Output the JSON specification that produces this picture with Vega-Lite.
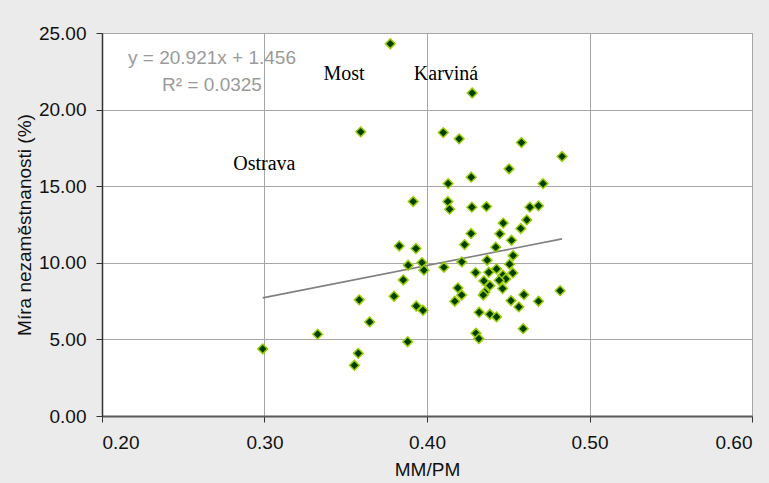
{
  "$schema": "https://vega.github.io/schema/vega-lite/v6.json",
  "width": 650,
  "height": 383,
  "autosize": {"type": "none"},
  "padding": {"left": 102, "top": 33, "right": 17, "bottom": 67},
  "background": "#ebebeb",
  "config": {
    "view": {"fill": "white", "stroke": "#8c8c8c", "strokeWidth": 1},
    "axis": {
      "labelFont": "Liberation Sans",
      "titleFont": "Liberation Sans",
      "labelFontSize": 19,
      "titleFontSize": 19,
      "labelColor": "#111111",
      "titleColor": "#111111",
      "titleFontWeight": "normal",
      "gridColor": "#a6a6a6",
      "gridWidth": 1,
      "tickColor": "#333333",
      "tickSize": 6,
      "labelPadding": 10
    }
  },
  "datasets": {
    "points": [
      {"x": 0.2989, "y": 4.38}, {"x": 0.3327, "y": 5.34}, {"x": 0.3583, "y": 7.58},
      {"x": 0.3647, "y": 6.14}, {"x": 0.3577, "y": 4.09}, {"x": 0.3553, "y": 3.31},
      {"x": 0.3774, "y": 24.30}, {"x": 0.4278, "y": 21.08}, {"x": 0.3592, "y": 18.55},
      {"x": 0.4100, "y": 18.50}, {"x": 0.4198, "y": 18.09}, {"x": 0.4272, "y": 15.59},
      {"x": 0.4130, "y": 15.17}, {"x": 0.4581, "y": 17.85}, {"x": 0.4831, "y": 16.94},
      {"x": 0.4505, "y": 16.13}, {"x": 0.4714, "y": 15.17}, {"x": 0.3915, "y": 14.00},
      {"x": 0.4128, "y": 14.00}, {"x": 0.4139, "y": 13.50}, {"x": 0.4276, "y": 13.63},
      {"x": 0.4366, "y": 13.67}, {"x": 0.4633, "y": 13.63}, {"x": 0.4686, "y": 13.72},
      {"x": 0.4614, "y": 12.80}, {"x": 0.4469, "y": 12.59}, {"x": 0.4577, "y": 12.24},
      {"x": 0.4448, "y": 11.89}, {"x": 0.4271, "y": 11.91}, {"x": 0.4520, "y": 11.47},
      {"x": 0.4231, "y": 11.19}, {"x": 0.3829, "y": 11.10}, {"x": 0.3932, "y": 10.93},
      {"x": 0.4423, "y": 11.02}, {"x": 0.4530, "y": 10.47}, {"x": 0.4370, "y": 10.17},
      {"x": 0.4214, "y": 10.06}, {"x": 0.4508, "y": 9.91}, {"x": 0.3969, "y": 10.01},
      {"x": 0.3884, "y": 9.84}, {"x": 0.3981, "y": 9.52}, {"x": 0.4104, "y": 9.71},
      {"x": 0.4428, "y": 9.60}, {"x": 0.4299, "y": 9.36}, {"x": 0.4380, "y": 9.38},
      {"x": 0.4528, "y": 9.34}, {"x": 0.4467, "y": 9.19}, {"x": 0.4485, "y": 8.95},
      {"x": 0.4350, "y": 8.82}, {"x": 0.4444, "y": 8.86}, {"x": 0.4387, "y": 8.51},
      {"x": 0.3854, "y": 8.88}, {"x": 0.4465, "y": 8.32}, {"x": 0.4190, "y": 8.36},
      {"x": 0.4356, "y": 8.08}, {"x": 0.4346, "y": 7.90}, {"x": 0.4213, "y": 7.90},
      {"x": 0.4819, "y": 8.18}, {"x": 0.4596, "y": 7.92}, {"x": 0.3797, "y": 7.82},
      {"x": 0.4171, "y": 7.49}, {"x": 0.4517, "y": 7.53}, {"x": 0.4686, "y": 7.49},
      {"x": 0.4565, "y": 7.12}, {"x": 0.3934, "y": 7.18}, {"x": 0.3975, "y": 6.90},
      {"x": 0.4321, "y": 6.77}, {"x": 0.4387, "y": 6.64}, {"x": 0.4428, "y": 6.47},
      {"x": 0.4592, "y": 5.70}, {"x": 0.4301, "y": 5.40}, {"x": 0.4319, "y": 5.05},
      {"x": 0.3881, "y": 4.85}
    ],
    "trend": [
      {"x": 0.2989, "y": 7.709},
      {"x": 0.4831, "y": 11.563}
    ],
    "towns": [
      {"x": 0.3489, "y": 21.95, "label": "Most"},
      {"x": 0.4117, "y": 21.95, "label": "Karviná"},
      {"x": 0.2999, "y": 16.07, "label": "Ostrava"}
    ],
    "equation": [
      {"x": 0.2677, "y": 22.97, "label": "y = 20.921x + 1.456"},
      {"x": 0.2677, "y": 21.23, "label": "R² = 0.0325"}
    ]
  },
  "encoding": {
    "x": {
      "field": "x",
      "type": "quantitative",
      "scale": {"domain": [0.2, 0.6], "nice": false, "zero": false},
      "axis": {
        "title": "MM/PM",
        "values": [0.2, 0.3, 0.4, 0.5, 0.6],
        "format": ".2f",
        "labelPadding": 11,
        "titlePadding": 8,
        "domainColor": "#595959",
        "domainWidth": 2
      }
    },
    "y": {
      "field": "y",
      "type": "quantitative",
      "scale": {"domain": [0, 25], "nice": false, "zero": true},
      "axis": {
        "title": "Míra nezaměstnanosti (%)",
        "values": [0, 5, 10, 15, 20, 25],
        "format": ".2f",
        "labelPadding": 10,
        "titlePadding": 4,
        "domainColor": "#333333",
        "domainWidth": 1.5
      }
    }
  },
  "layer": [
    {
      "data": {"name": "trend"},
      "mark": {"type": "line", "color": "#808080", "strokeWidth": 1.6}
    },
    {
      "data": {"name": "points"},
      "mark": {
        "type": "point",
        "shape": "diamond",
        "filled": true,
        "size": 95,
        "fill": "#003f00",
        "stroke": "#9acd00",
        "strokeWidth": 1.5,
        "opacity": 1
      }
    },
    {
      "data": {"name": "towns"},
      "mark": {
        "type": "text",
        "font": "Liberation Serif",
        "fontSize": 20,
        "color": "#000000",
        "align": "center",
        "baseline": "alphabetic"
      },
      "encoding": {"text": {"field": "label"}}
    },
    {
      "data": {"name": "equation"},
      "mark": {
        "type": "text",
        "font": "Liberation Sans",
        "fontSize": 19,
        "color": "#9a9a9a",
        "align": "center",
        "baseline": "alphabetic"
      },
      "encoding": {"text": {"field": "label"}}
    }
  ]
}
